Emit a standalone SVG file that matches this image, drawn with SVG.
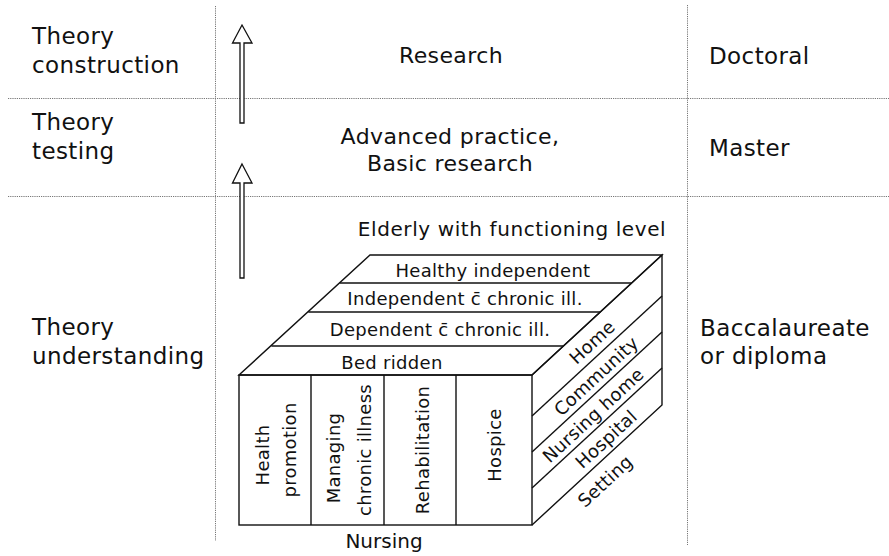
<svg xmlns="http://www.w3.org/2000/svg" width="889" height="556" viewBox="0 0 889 556">
<style>
text{font-family:"DejaVu Sans","Liberation Sans",sans-serif;fill:#111}
.side{font-size:23px;letter-spacing:0.4px}
.mid{font-size:22px;letter-spacing:0.4px}
.cube{font-size:18px;letter-spacing:0.3px}
.c{text-anchor:middle}
.grid{stroke:#777;stroke-width:1;stroke-dasharray:1.2 1;fill:none}
.edge{stroke:#111;stroke-width:1.4;fill:none;stroke-linejoin:miter}
.arrow{fill:#fff;stroke:#111;stroke-width:1.3;stroke-linejoin:miter}
</style>
<rect width="889" height="556" fill="#fff"/>
<g id="grid">
<line class="grid" x1="8" y1="98.5" x2="889" y2="98.5"/>
<line class="grid" x1="8" y1="196.5" x2="889" y2="196.5"/>
<line class="grid" x1="215.5" y1="6" x2="215.5" y2="541"/>
<line class="grid" x1="687.5" y1="5" x2="687.5" y2="545"/>
</g>
<g id="level-labels">
<g id="theory-construction"><text class="side" x="32" y="44">Theory</text><text class="side" x="32" y="73">construction</text></g>
<g id="theory-testing"><text class="side" x="32" y="130">Theory</text><text class="side" x="32" y="159">testing</text></g>
<g id="theory-understanding"><text class="side" x="32" y="335">Theory</text><text class="side" x="32" y="364">understanding</text></g>
</g>
<g id="education">
<g id="doctoral"><text class="side" x="709" y="64">Doctoral</text></g>
<g id="master"><text class="side" x="709" y="156">Master</text></g>
<g id="baccalaureate"><text class="side" x="700" y="336">Baccalaureate</text><text class="side" x="700" y="364">or diploma</text></g>
</g>
<g id="practice">
<g id="research"><text class="mid c" x="451" y="63">Research</text></g>
<g id="advanced"><text class="mid c" x="450" y="144">Advanced practice,</text><text class="mid c" x="450" y="171">Basic research</text></g>
<g id="elderly-title"><text class="c" x="512" y="236" style="font-size:20px;letter-spacing:0.6px">Elderly with functioning level</text></g>
</g>
<g id="connectors">
<path class="arrow" d="M242,25 L252,43 L244,43 L244,123 L240,123 L240,43 L232.5,43 Z"/>
<path class="arrow" d="M242,164 L252,183 L244,183 L244,278 L240,278 L240,183 L232.5,183 Z"/>
</g>
<g id="cube">
<g id="top-face">
<path class="edge" d="M239,375 L370,255 L662,255 L532,375 Z"/>
<line class="edge" x1="339.7" y1="283" x2="631.7" y2="283"/>
<line class="edge" x1="308.3" y1="312" x2="600.3" y2="312"/>
<line class="edge" x1="271.4" y1="346" x2="563.4" y2="346"/>
<text class="cube c" x="493" y="277">Healthy independent</text>
<text class="cube c" x="465" y="305">Independent c&#x304; chronic ill.</text>
<text class="cube c" x="440" y="336">Dependent c&#x304; chronic ill.</text>
<text class="cube c" x="392" y="369">Bed ridden</text>
</g>
<g id="front-face">
<rect class="edge" x="239" y="375" width="293" height="150"/>
<line class="edge" x1="311" y1="375" x2="311" y2="525"/>
<line class="edge" x1="384" y1="375" x2="384" y2="525"/>
<line class="edge" x1="456" y1="375" x2="456" y2="525"/>
<text class="cube c" transform="translate(269,455) rotate(-90)">Health</text>
<text class="cube c" transform="translate(296,450) rotate(-90)">promotion</text>
<text class="cube c" transform="translate(340,458) rotate(-90)">Managing</text>
<text class="cube c" transform="translate(371,450) rotate(-90)">chronic illness</text>
<text class="cube c" transform="translate(429,450) rotate(-90)">Rehabilitation</text>
<text class="cube c" transform="translate(501,445) rotate(-90)">Hospice</text>
</g>
<g id="right-face">
<path class="edge" d="M532,375 L662,255 L662,405 L532,525"/>
<line class="edge" x1="532" y1="416" x2="662" y2="296"/>
<line class="edge" x1="532" y1="452" x2="662" y2="332"/>
<line class="edge" x1="532" y1="488" x2="662" y2="368"/>
<text class="cube c" dominant-baseline="central" transform="translate(592,342) rotate(-42.7)">Home</text>
<text class="cube c" dominant-baseline="central" transform="translate(596,376) rotate(-42.7)">Community</text>
<text class="cube c" dominant-baseline="central" transform="translate(593,415) rotate(-42.7)">Nursing home</text>
<text class="cube c" dominant-baseline="central" transform="translate(606,439) rotate(-42.7)">Hospital</text>
<text class="cube c" dominant-baseline="central" transform="translate(605,481) rotate(-42.7)">Setting</text>
</g>
<g id="nursing"><text class="c" x="384" y="548" style="font-size:20px">Nursing</text></g>
</g>
</svg>
